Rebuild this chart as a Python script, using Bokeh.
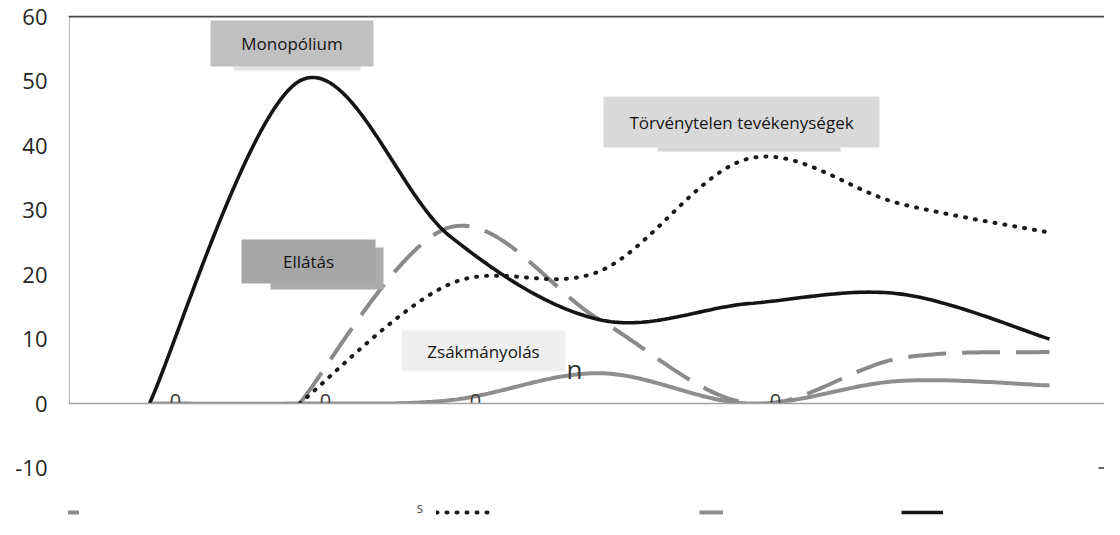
import numpy as np
from bokeh.plotting import figure
from bokeh.models import Range1d, FixedTicker, Legend, LegendItem, PrintfTickFormatter
from bokeh.core.properties import value
from bokeh.embed import file_html
from bokeh.resources import INLINE

# ---------------- data ----------------
periods = [1, 2, 3, 4, 5, 6, 7]
ellatas = [None, 0, 27.3, 13, 0, 7, 8]
torvenytelen = [None, 0, 18.5, 20.5, 38, 31, 26.5]
zsakmanyolas = [0, 0, 0.5, 4.7, 0, 3.5, 2.8]
monopolium = [0, 50, 26, 13, 15.5, 17, 10]
y_ticks = [-10, 0, 10, 20, 30, 40, 50, 60]

# ---------------- pixel helpers (layout only) ----------------
W, H = 1104, 519
LEFT, TOP = 68, 15
X0_PX, DX_PX = 149.0, 150.0      # x of first period, px per period
Y0_PX, DY_PX = 403.0, 6.45       # y of value 0, px per unit


def xd(px):
    return 1 + (px - X0_PX) / DX_PX


def yd(py):
    return (Y0_PX - py) / DY_PX


def smooth(xs, ys, n=40):
    P = np.array([(x, y) for x, y in zip(xs, ys) if y is not None], float)
    m = len(P)
    t = np.linspace(0, 1, n)
    ox, oy = [], []
    for i in range(m - 1):
        p0 = P[i - 1] if i > 0 else P[i]
        p1, p2 = P[i], P[i + 1]
        p3 = P[i + 2] if i + 2 < m else P[i + 1]
        c1 = p1 + (p2 - p0) / 6
        c2 = p2 - (p3 - p1) / 6
        seg = (((1 - t) ** 3)[:, None] * p1 + (3 * (1 - t) ** 2 * t)[:, None] * c1
               + (3 * (1 - t) * t ** 2)[:, None] * c2 + (t ** 3)[:, None] * p2)
        if i > 0:
            seg = seg[1:]
        ox.extend(seg[:, 0])
        oy.extend(seg[:, 1])
    return ox, oy


FONT = value("Open Sans")

p = figure(width=W, height=H, output_backend="svg", toolbar_location=None,
           x_range=Range1d(xd(LEFT), xd(W)), y_range=Range1d(yd(H), yd(TOP)),
           x_axis_location=None, y_axis_location="left", title=None,
           min_border_left=LEFT, min_border_right=0, min_border_top=TOP, min_border_bottom=0)
p.outline_line_color = None
p.xgrid.visible = False
p.ygrid.visible = False
p.background_fill_color = "white"
p.border_fill_color = "white"

ax = p.yaxis[0]
ax.ticker = FixedTicker(ticks=y_ticks)
ax.formatter = PrintfTickFormatter(format="%d")
ax.axis_line_color = None
ax.major_tick_line_color = None
ax.minor_tick_line_color = None
ax.major_tick_out = 0
ax.major_tick_in = 0
ax.major_label_standoff = 21
ax.major_label_text_font = "Open Sans"
ax.major_label_text_font_size = "22px"
ax.major_label_text_color = "#262626"

xs_start, xs_end = xd(LEFT), xd(W)

# left axis line (only from 0 up to the top)
p.segment(x0=[xd(LEFT + 1)], y0=[0], x1=[xd(LEFT + 1)], y1=[y_ticks[-1]], line_color="#b5b5b5", line_width=1)

# series
gx, gy = smooth(periods, zsakmanyolas)
r_zs = p.line(gx, gy, line_color="#8e8e8e", line_width=4)
dx_, dy_ = smooth(periods, ellatas)
r_el = p.line(dx_, dy_, line_color="#8a8a8a", line_width=4, line_dash="38 16")
tx, ty = smooth(periods, torvenytelen)
r_tv = p.line(tx, ty, line_color="#1a1a1a", line_width=4, line_dash="1 9", line_cap="round")
mx, my = smooth(periods, monopolium)
r_mo = p.line(mx, my, line_color="#151515", line_width=3.6)

# zero data labels of Zsákmányolás (only their top part shows above the axis)
zl_x = [x for x, v in zip(periods, zsakmanyolas) if round(v) == 0]
zl_t = [str(round(v)) for v in zsakmanyolas if round(v) == 0]
p.text(x=zl_x, y=[0] * len(zl_x), text=zl_t, x_offset=26, y_offset=-3,
       text_align="center", text_baseline="middle", text_font=FONT,
       text_font_size="20px", text_color="#3a3a3a")

# white band below the zero line
p.quad(left=[xs_start], right=[xs_end], top=[0], bottom=[yd(418)],
       fill_color="white", line_color=None)

# zero line, top rule, right tick
p.segment(x0=[xs_start], y0=[0], x1=[xs_end], y1=[0], line_color="#a3a3a3", line_width=1.5)
p.segment(x0=[xs_start], y0=[y_ticks[-1]], x1=[xs_end], y1=[y_ticks[-1]], line_color="#4a4a4a", line_width=2)
p.segment(x0=[xd(1098)], y0=[y_ticks[0]], x1=[xs_end], y1=[y_ticks[0]], line_color="#6a6a6a", line_width=2)

# remnant glyph next to the Zsákmányolás box
p.text(x=[xd(566)], y=[yd(368)], text=["n"], text_align="left", text_baseline="alphabetic",
       text_font=FONT, text_font_size="26px", text_color="#333333")

# label boxes
shadows = [((233, 66, 360, 70), "#e3e3e3"),
           ((657, 147, 840, 151), "#d2d2d2"),
           ((270, 247, 383, 289), "#ababab")]
for (l, t, r, b), c in shadows:
    p.quad(left=[xd(l)], right=[xd(r)], top=[yd(t)], bottom=[yd(b)], fill_color=c, line_color=None)

boxes = [("Monopólium", (210, 20, 373, 66), "#c0c0c0"),
         ("Törvénytelen tevékenységek", (603, 96, 879, 147), "#d9d9d9"),
         ("Ellátás", (241, 239, 375, 283), "#a6a6a6"),
         ("Zsákmányolás", (401, 330, 565, 371), "#efefef")]
for txt, (l, t, r, b), c in boxes:
    p.quad(left=[xd(l)], right=[xd(r)], top=[yd(t)], bottom=[yd(b)], fill_color=c, line_color=None)
    p.text(x=[xd((l + r) / 2)], y=[yd((t + b) / 2)], text=[txt], text_align="center",
           text_baseline="middle", text_font=FONT, text_font_size="17px", text_color="#161616")

# legend remnant letter
p.text(x=[xd(416)], y=[yd(507)], text=["s"], text_align="left", text_baseline="middle",
       text_font=FONT, text_font_size="14px", text_color="#555555")

# legend keys (labels are blanked in the reference)
for rend, left_px, w in [(r_el, 8, 71), (r_tv, 436, 55), (r_zs, 699, 24), (r_mo, 901, 42)]:
    leg = Legend(items=[LegendItem(label="", renderers=[rend])], location=(left_px - LEFT, 2),
                 glyph_width=w, glyph_height=10, label_width=0, label_height=10,
                 label_standoff=0, padding=0, margin=0, spacing=0,
                 border_line_color=None, background_fill_alpha=0,
                 label_text_font_size="1px")
    p.add_layout(leg)

open("out.html", "w").write(file_html(p, INLINE))
